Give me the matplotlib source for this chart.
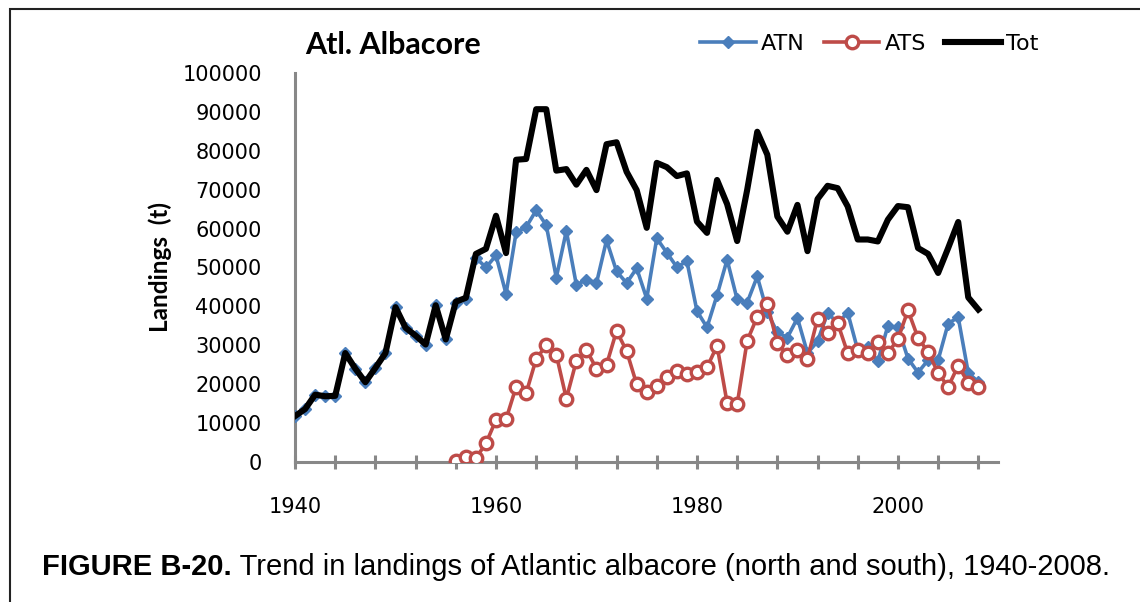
import numpy as np
import matplotlib
matplotlib.use("Agg")
import matplotlib.pyplot as plt
from matplotlib.patches import Rectangle
from matplotlib.ticker import MultipleLocator

years = list(range(1940, 2009))
ats_years = list(range(1956, 2009))

tot = [11800, 13600, 17300, 16900, 17000, 28000, 24000, 20500, 24200, 28000,
       39800, 34500, 32500, 30200, 40300, 31500, 41200, 42200, 53500, 54800,
       63300, 53700, 77700, 77900, 90700, 90700, 74900, 75300, 71300, 75100,
       69900, 81700, 82200, 74600, 69900, 60200, 76900, 75800, 73500, 74200,
       61800, 58900, 72500, 66300, 56800, 70000, 84900, 79000, 63100, 59200,
       66100, 54200, 67600, 71000, 70400, 65700, 57200, 57200, 56700, 62300,
       65800, 65500, 55000, 53500, 48600, 55000, 61700, 42300, 39200]

atn = [11800, 13600, 17300, 16900, 17000, 28000, 24000, 20500, 24200, 28000,
       39800, 34500, 32500, 30200, 40300, 31500, 41000, 42000, 52500, 50000,
       53100, 43200, 59000, 60400, 64700, 60900, 47400, 59400, 45500, 46900,
       46000, 57000, 49000, 46000, 49800, 42000, 57500, 53800, 50100, 51600,
       38800, 34600, 42900, 52000, 41800, 41000, 47700, 38500, 33300, 32000,
       37000, 28000, 31000, 38300, 35700, 38400, 28800, 29600, 25900, 35000,
       34600, 26600, 23000, 26200, 26200, 35600, 37200, 22900, 20600]

ats = [200, 1200, 1000, 4800, 10800, 11000, 19300, 17700, 26500, 30000,
       27600, 16300, 26000, 28800, 24000, 25000, 33700, 28500, 20000, 17900,
       19500, 21800, 23300, 22700, 23200, 24300, 29900, 15200, 14800, 31200,
       37300, 40600, 30600, 27500, 28900, 26600, 36800, 33200, 35700, 28000,
       28800, 28000, 30800, 28000, 31600, 39000, 31900, 28300, 22900, 19300,
       24800, 20300, 19300]

fig = plt.figure(figsize=(11.4, 6.02), dpi=100)
ax = fig.add_axes([0.2588, 0.2326, 0.6170, 0.6461])

ax.plot(years, atn, color="#4a7ebb", lw=2.6, marker="D", ms=6,
        label="ATN", zorder=3)
ax.plot(ats_years, ats, color="#be4b48", lw=2.6, marker="o", ms=9,
        mfc="white", mec="#be4b48", mew=2.4, label="ATS", zorder=4)
ax.plot(years, tot, color="black", lw=4.4, label="Tot", zorder=5)

ax.set_xlim(1940, 2010)
ax.set_ylim(0, 100000)
ax.xaxis.set_major_locator(MultipleLocator(20))
ax.xaxis.set_minor_locator(MultipleLocator(4))
ax.yaxis.set_major_locator(MultipleLocator(10000))

for s in ["top", "right"]:
    ax.spines[s].set_visible(False)
for s in ["left", "bottom"]:
    ax.spines[s].set_color("#888888")
    ax.spines[s].set_linewidth(2.2)

ax.tick_params(axis="x", which="both", direction="inout", length=10,
               width=2.2, color="#888888", labelsize=15, pad=20)
ax.tick_params(axis="y", length=0, labelsize=15, pad=24)
ax.set_xticks([1940, 1960, 1980, 2000])
ax.set_xticklabels(["1940", "1960", "1980", "2000"])

ax.set_ylabel("Landings  (t)", fontsize=17.5, fontweight="bold",
              family="Lato", labelpad=7)

fig.text(0.268, 0.925, "Atl. Albacore", fontsize=22, fontweight="bold",
         family="Lato", va="center")

ax.legend(loc="center left", bbox_to_anchor=(700 / 1140, 1 - 44 / 602),
          bbox_transform=fig.transFigure, ncol=3, frameon=False,
          fontsize=16, handlelength=2.5, columnspacing=0.85,
          handletextpad=0.25, borderpad=0, borderaxespad=0)

# frame round the chart
fig.patches.append(Rectangle((10 / 1140, -0.05), 1.2, 1.05 - 9 / 602,
                             transform=fig.transFigure, fill=False,
                             edgecolor="#222222", lw=1.5))

# caption: bold part, then regular part
r = fig.canvas.get_renderer()
t1 = fig.text(42 / 1140, 0.058, "FIGURE B-20.", fontsize=21,
              fontweight="bold", family="Liberation Sans", va="center")
bb = t1.get_window_extent(renderer=r)
fig.text(bb.x1 / fig.bbox.width, 0.058,
         " Trend in landings of Atlantic albacore (north and south), 1940-2008.",
         fontsize=21, family="Liberation Sans", va="center")

fig.savefig("out.png", dpi=100)
